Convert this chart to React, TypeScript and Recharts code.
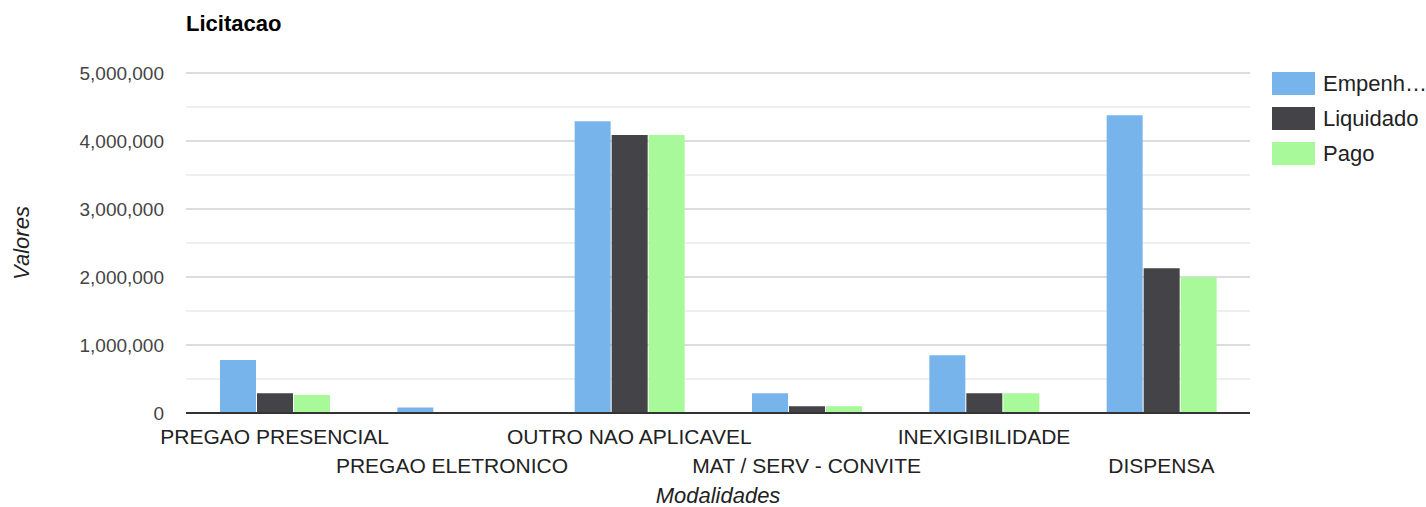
import { BarChart, Bar, XAxis, YAxis, CartesianGrid, Label } from 'recharts'

const categories = [
  'PREGAO PRESENCIAL',
  'PREGAO ELETRONICO',
  'OUTRO NAO APLICAVEL',
  'MAT / SERV - CONVITE',
  'INEXIGIBILIDADE',
  'DISPENSA',
]
const empenhado = [780000, 80000, 4290000, 290000, 850000, 4380000]
const liquidado = [290000, 12000, 4090000, 100000, 290000, 2130000]
const pago = [265000, 5000, 4090000, 100000, 290000, 2000000]

const yTicks = [0, 500000, 1000000, 1500000, 2000000, 2500000, 3000000, 3500000, 4000000, 4500000, 5000000]

const seriesNames = ['Empenhado', 'Liquidado', 'Pago']
const colors = ['#78b4ec', '#434348', '#a8f99a']

const FONT = 'Arial, "Liberation Sans", sans-serif'

const data = categories.map((name, i) => ({
  name,
  Empenhado: empenhado[i],
  Liquidado: liquidado[i],
  Pago: pago[i],
}))

const formatTick = (v: number) => (v % 1000000 === 0 ? v.toLocaleString('en-US') : '')

// two-row labels, like the original: even ones up, odd ones down
const CategoryTick = (props: any) => {
  const { x, y, payload, index } = props
  const dy = index % 2 === 0 ? 23 : 52
  return (
    <text x={x} y={y + dy} textAnchor="middle" fill="#222" fontSize={21} fontFamily={FONT}>
      {payload.value}
    </text>
  )
}

// major lines darker, half-million lines lighter, no line at 0 (axis covers it)
const GridLine = (props: any) => {
  const { x1, x2, y1, y2, index } = props
  if (y1 > 400) return null
  const major = index % 2 === 0
  return <line x1={x1} x2={x2} y1={y1} y2={y2} stroke={major ? '#dcdcdc' : '#efefef'} strokeWidth={2} />
}

// shorten a legend label so it fits in the space left of the window
const fitLabel = (text: string, maxWidth: number) => {
  const ctx = document.createElement('canvas').getContext('2d')
  if (!ctx) return text
  ctx.font = `22px ${FONT}`
  if (ctx.measureText(text).width <= maxWidth) return text
  let s = text
  while (s.length > 1 && ctx.measureText(s + '…').width > maxWidth) s = s.slice(0, -1)
  return s + '…'
}

const App = () => {
  return (
    <div style={{ position: 'absolute', left: 0, top: 0, width: 1426, height: 507, background: '#fff' }}>
      <div
        style={{
          position: 'absolute',
          left: 186,
          top: 11,
          fontFamily: FONT,
          fontWeight: 'bold',
          fontSize: 22,
          color: '#000',
        }}
      >
        Licitacao
      </div>
      <div style={{ position: 'absolute', left: 1272, top: 66, fontFamily: FONT }}>
        {seriesNames.map((s, i) => (
          <div key={`leg-${i}`} style={{ display: 'flex', alignItems: 'center', height: 35 }}>
            <div style={{ width: 43, height: 23, background: colors[i], marginRight: 8 }} />
            <span style={{ fontSize: 22, color: '#222', whiteSpace: 'nowrap' }}>{fitLabel(s, 106)}</span>
          </div>
        ))}
      </div>
      <BarChart
        width={1426}
        height={507}
        data={data}
        margin={{ top: 73, right: 176, bottom: 0, left: 66 }}
        barSize={36}
        barGap={1}
      >
        <CartesianGrid vertical={false} horizontal={(p: any) => <GridLine {...p} />} />
        <XAxis
          dataKey="name"
          height={94}
          interval={0}
          tickLine={false}
          axisLine={{ stroke: '#333', strokeWidth: 2 }}
          tick={<CategoryTick />}
        >
          <Label
            content={(p: any) => {
              const vb = p.viewBox
              return (
                <text
                  x={vb.x + vb.width / 2}
                  y={vb.y + 90}
                  textAnchor="middle"
                  fill="#222"
                  fontSize={22}
                  fontStyle="italic"
                  fontFamily={FONT}
                >
                  Modalidades
                </text>
              )
            }}
          />
        </XAxis>
        <YAxis
          width={120}
          domain={[0, 5000000]}
          ticks={yTicks}
          interval={0}
          tickFormatter={formatTick}
          tickLine={false}
          axisLine={false}
          tickMargin={16}
          tick={{ fill: '#444', fontSize: 19, fontFamily: FONT }}
        >
          <Label
            content={(p: any) => {
              const vb = p.viewBox
              const cy = vb.y + vb.height / 2
              return (
                <text
                  x={29}
                  y={cy}
                  transform={`rotate(-90, 29, ${cy})`}
                  textAnchor="middle"
                  fill="#222"
                  fontSize={22}
                  fontStyle="italic"
                  fontFamily={FONT}
                >
                  Valores
                </text>
              )
            }}
          />
        </YAxis>
        {seriesNames.map((s, i) => (
          <Bar key={s} dataKey={s} name={s} fill={colors[i]} isAnimationActive={false} />
        ))}
      </BarChart>
    </div>
  )
}

export default App
